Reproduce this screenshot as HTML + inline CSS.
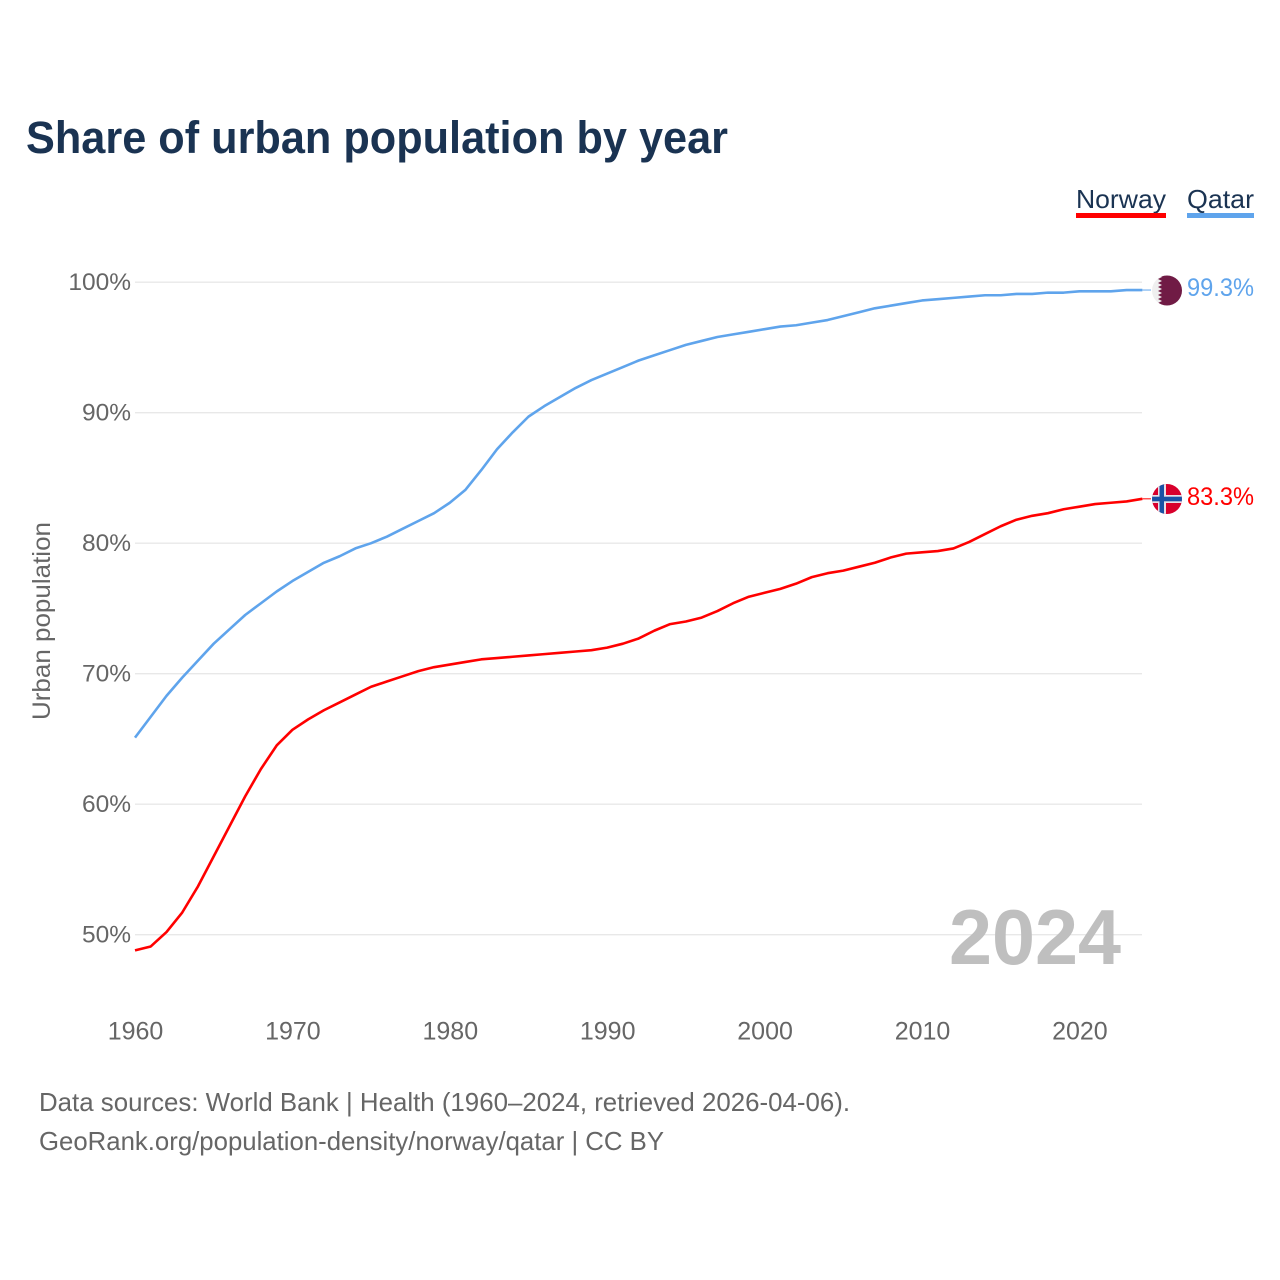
<!DOCTYPE html>
<html lang="en">
<head>
<meta charset="utf-8">
<title>Share of urban population by year</title>
<style>
html,body{margin:0;padding:0;background:#fff;}
svg{display:block;font-family:"Liberation Sans",sans-serif;}
</style>
</head>
<body>
<svg id="chart" xmlns="http://www.w3.org/2000/svg" width="1280" height="1280" viewBox="0 0 1280 1280">
  <rect width="1280" height="1280" fill="#fff"/>
  <text x="26" y="153" font-size="45" font-weight="700" fill="#1a3352" textLength="702" lengthAdjust="spacingAndGlyphs">Share of urban population by year</text>

  <g>
    <text x="1076" y="208" font-size="26" fill="#1a3352" textLength="90" lengthAdjust="spacingAndGlyphs">Norway</text>
    <rect x="1076" y="213" width="90" height="5" fill="#ff0000"/>
  </g>
  <g>
    <text x="1187" y="208" font-size="26" fill="#1a3352" textLength="67" lengthAdjust="spacingAndGlyphs">Qatar</text>
    <rect x="1187" y="213" width="67" height="5" fill="#5fa4ec"/>
  </g>

  <g id="grid"></g>
  <g id="y-ticks"></g>
  <g id="x-ticks"></g>

  <text transform="translate(50,621) rotate(-90)" text-anchor="middle" font-size="25" fill="#666" textLength="198" lengthAdjust="spacingAndGlyphs">Urban population</text>

  <text x="1121" y="964" text-anchor="end" font-size="78" font-weight="700" fill="#bfbfbf" textLength="172" lengthAdjust="spacingAndGlyphs">2024</text>

  <g id="series"></g>

  <defs>
    <clipPath id="flag-clip-qatar"><circle cx="1167" cy="290.5" r="15"/></clipPath>
    <clipPath id="flag-clip-norway"><circle cx="1167" cy="499" r="15"/></clipPath>
  </defs>

  <g clip-path="url(#flag-clip-qatar)">
    <rect x="1152" y="275" width="30" height="31" fill="#efefef"/>
    <polygon fill="#701b45" points="1182,275 1158,275 1162,277 1158,279 1162,281 1158,283 1162,285 1158,287 1162,289 1158,291 1162,293 1158,295 1162,297 1158,299 1162,301 1158,303 1162,305 1158,306 1182,306"/>
  </g>
  <g clip-path="url(#flag-clip-norway)">
    <rect x="1152" y="484" width="30" height="30" fill="#d8002c"/>
    <rect x="1158" y="484" width="8" height="30" fill="#e8dfe6"/>
    <rect x="1152" y="495" width="30" height="8" fill="#e8dfe6"/>
    <rect x="1159.5" y="484" width="4.5" height="30" fill="#1a52a5"/>
    <rect x="1152" y="496.7" width="30" height="4.6" fill="#1a52a5"/>
  </g>

  <text x="1187" y="296" font-size="25" fill="#5fa4ec" textLength="67" lengthAdjust="spacingAndGlyphs">99.3%</text>
  <text x="1187" y="505" font-size="25" fill="#ff0000" textLength="67" lengthAdjust="spacingAndGlyphs">83.3%</text>

  <text x="39" y="1111" font-size="26" fill="#666" textLength="811" lengthAdjust="spacingAndGlyphs">Data sources: World Bank | Health (1960–2024, retrieved 2026-04-06).</text>
  <text x="39" y="1150" font-size="26" fill="#666" textLength="625" lengthAdjust="spacingAndGlyphs">GeoRank.org/population-density/norway/qatar | CC BY</text>
</svg>
<script>
const startYear = 1960;
const xTickLabels = [1960, 1970, 1980, 1990, 2000, 2010, 2020];
const yTickLabels = [50, 60, 70, 80, 90, 100];
const norwayValues = [
  48.8, 49.1, 50.2, 51.7, 53.7, 56.0, 58.3, 60.6, 62.7, 64.5,
  65.7, 66.5, 67.2, 67.8, 68.4, 69.0, 69.4, 69.8, 70.2, 70.5,
  70.7, 70.9, 71.1, 71.2, 71.3, 71.4, 71.5, 71.6, 71.7, 71.8,
  72.0, 72.3, 72.7, 73.3, 73.8, 74.0, 74.3, 74.8, 75.4, 75.9,
  76.2, 76.5, 76.9, 77.4, 77.7, 77.9, 78.2, 78.5, 78.9, 79.2,
  79.3, 79.4, 79.6, 80.1, 80.7, 81.3, 81.8, 82.1, 82.3, 82.6,
  82.8, 83.0, 83.1, 83.2, 83.4
];
const qatarValues = [
  65.1, 66.7, 68.3, 69.7, 71.0, 72.3, 73.4, 74.5, 75.4, 76.3,
  77.1, 77.8, 78.5, 79.0, 79.6, 80.0, 80.5, 81.1, 81.7, 82.3,
  83.1, 84.1, 85.6, 87.2, 88.5, 89.7, 90.5, 91.2, 91.9, 92.5,
  93.0, 93.5, 94.0, 94.4, 94.8, 95.2, 95.5, 95.8, 96.0, 96.2,
  96.4, 96.6, 96.7, 96.9, 97.1, 97.4, 97.7, 98.0, 98.2, 98.4,
  98.6, 98.7, 98.8, 98.9, 99.0, 99.0, 99.1, 99.1, 99.2, 99.2,
  99.3, 99.3, 99.3, 99.4, 99.4
];

const NS = 'http://www.w3.org/2000/svg';
function xScale(year) { return 135 + (year - 1960) * 15.74; }
function yScale(value) { return 934.7 - (value - 50) * 13.05; }

const grid = document.getElementById('grid');
const yTicks = document.getElementById('y-ticks');
const xTicks = document.getElementById('x-ticks');
const seriesGroup = document.getElementById('series');

yTickLabels.forEach(function (v) {
  const line = document.createElementNS(NS, 'line');
  
  
  line.setAttribute('x1', 135);
  line.setAttribute('x2', 1142);
  line.setAttribute('y1', yScale(v));
  line.setAttribute('y2', yScale(v));
  line.setAttribute('stroke', '#e8e8e8');
  line.setAttribute('stroke-width', 1.3);
  grid.appendChild(line);

  const label = document.createElementNS(NS, 'text');
  
  
  label.setAttribute('x', 131);
  label.setAttribute('y', yScale(v) + 8);
  label.setAttribute('text-anchor', 'end');
  label.setAttribute('font-size', 24.5);
  label.setAttribute('fill', '#666');
  label.textContent = v + '%';
  yTicks.appendChild(label);
});

xTickLabels.forEach(function (y) {
  const label = document.createElementNS(NS, 'text');
  
  
  label.setAttribute('x', xScale(y) + 0.5);
  label.setAttribute('y', 1039.5);
  label.setAttribute('text-anchor', 'middle');
  label.setAttribute('font-size', 25);
  label.setAttribute('fill', '#666');
  label.textContent = y;
  xTicks.appendChild(label);
});

function drawSeries(values, color, name) {
  const pts = values.map(function (v, i) {
    return xScale(startYear + i).toFixed(2) + ',' + yScale(v).toFixed(2);
  });
  const line = document.createElementNS(NS, 'polyline');
  
  
  line.setAttribute('points', pts.join(' '));
  line.setAttribute('fill', 'none');
  line.setAttribute('stroke', color);
  line.setAttribute('stroke-width', 2.6);
  line.setAttribute('stroke-linejoin', 'round');
  seriesGroup.appendChild(line);

  const lastY = yScale(values[values.length - 1]);
  const leader = document.createElementNS(NS, 'line');
  
  
  leader.setAttribute('x1', xScale(startYear + values.length - 1));
  leader.setAttribute('x2', 1151);
  leader.setAttribute('y1', lastY);
  leader.setAttribute('y2', lastY);
  leader.setAttribute('stroke', color);
  leader.setAttribute('stroke-width', 1);
  seriesGroup.appendChild(leader);
}

drawSeries(qatarValues, '#5fa4ec', 'qatar-line');
drawSeries(norwayValues, '#ff0000', 'norway-line');
</script>
</body>
</html>
